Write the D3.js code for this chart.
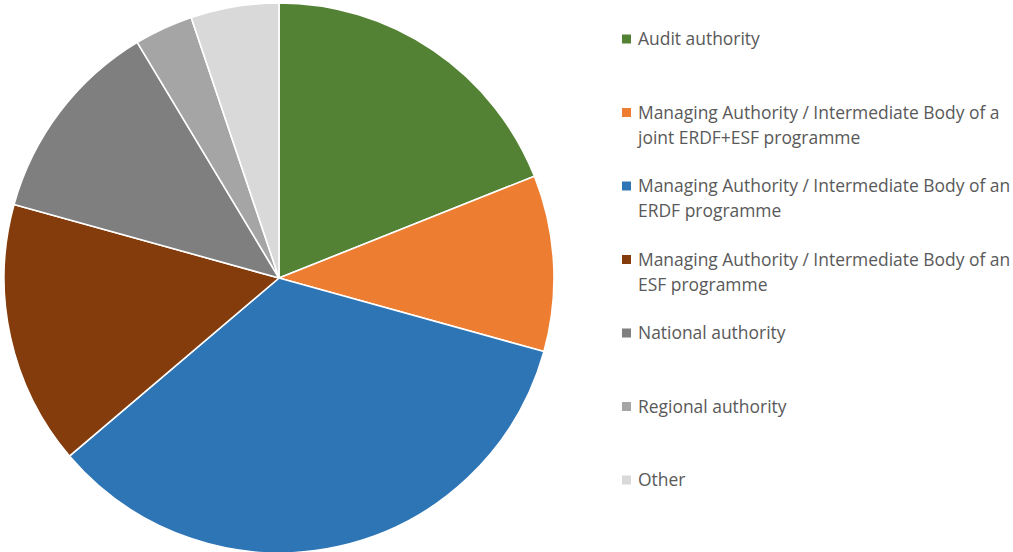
<!DOCTYPE html>
<html>
<head>
<meta charset="utf-8">
<script src="https://cdn.jsdelivr.net/npm/d3@7"></script>
<style>
  html, body { margin: 0; padding: 0; background: #ffffff; }
  svg { display: block; }
</style>
</head>
<body>
<svg id="chart" width="1013" height="552"></svg>
<script>
const categories = [
  "Audit authority",
  "Managing Authority / Intermediate Body of a joint ERDF+ESF programme",
  "Managing Authority / Intermediate Body of an ERDF programme",
  "Managing Authority / Intermediate Body of an ESF programme",
  "National authority",
  "Regional authority",
  "Other"
];
const legendLines = [
  ["Audit authority"],
  ["Managing Authority / Intermediate Body of a", "joint ERDF+ESF programme"],
  ["Managing Authority / Intermediate Body of an", "ERDF programme"],
  ["Managing Authority / Intermediate Body of an", "ESF programme"],
  ["National authority"],
  ["Regional authority"],
  ["Other"]
];
const values = [11, 6, 20, 9, 7, 2, 3];
const colors = ["#548235", "#ED7D31", "#2E75B6", "#843C0C", "#7F7F7F", "#A5A5A5", "#D9D9D9"];

const svg = d3.select("#chart");
const cx = 279, cy = 278, r = 275;

const data = categories.map((c, i) => ({ name: c, value: values[i], color: colors[i], lines: legendLines[i] }));

const pie = d3.pie().value(d => d.value).sort(null);
const arc = d3.arc().innerRadius(0).outerRadius(r);

svg.append("g")
  .attr("transform", `translate(${cx},${cy})`)
  .selectAll("path")
  .data(pie(data))
  .join("path")
  .attr("d", arc)
  .attr("fill", d => d.data.color)
  .attr("stroke", "#ffffff")
  .attr("stroke-width", 1.6)
  .attr("stroke-linejoin", "round");

// Legend
const legend = svg.append("g");
const fontFamily = "'Open Sans', 'Noto Sans', sans-serif";
const targetWidth = 362; // width of longest line in reference
// measure font size
const probe = legend.append("text")
  .attr("font-family", fontFamily)
  .attr("font-size", 20)
  .text("Managing Authority / Intermediate Body of a");
const w20 = probe.node().getComputedTextLength();
probe.remove();
const fs = Math.min(20, 20 * targetWidth / w20);

const step = 73.5, y0 = 39, lineH = 25;
const items = legend.selectAll("g.item")
  .data(data)
  .join("g")
  .attr("class", "item")
  .attr("transform", (d, i) => `translate(0,${y0 + step * i})`);

items.append("rect")
  .attr("x", 622)
  .attr("y", -4.5)
  .attr("width", 9)
  .attr("height", 9)
  .attr("fill", d => d.color);

items.each(function(d) {
  const g = d3.select(this);
  d.lines.forEach((ln, k) => {
    g.append("text")
      .attr("x", 638)
      .attr("y", k * lineH)
      .attr("dy", "0.35em")
      .attr("font-family", fontFamily)
      .attr("font-size", fs)
      .attr("fill", "#595959")
      .text(ln);
  });
});
</script>
</body>
</html>
